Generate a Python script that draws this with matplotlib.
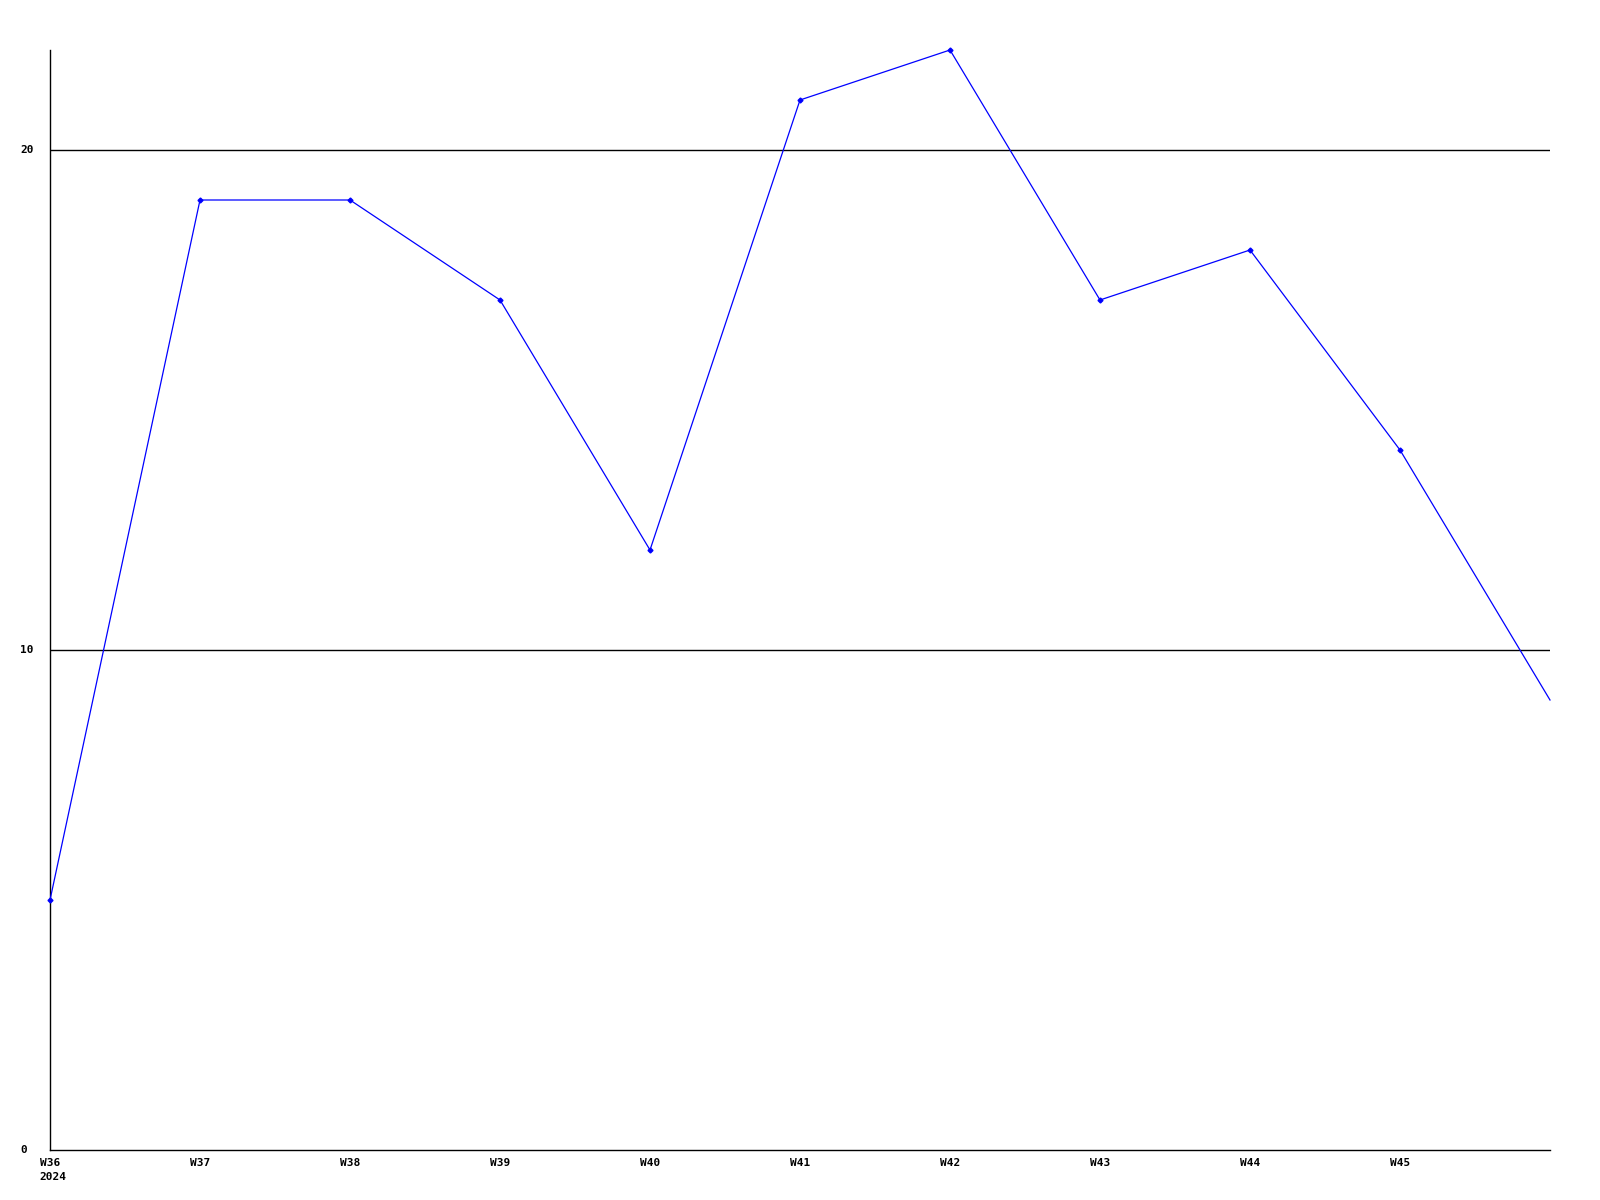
import matplotlib
matplotlib.use("Agg")
import matplotlib.pyplot as plt

weeks = ['W36', 'W37', 'W38', 'W39', 'W40', 'W41', 'W42', 'W43', 'W44', 'W45', 'W46']
values = [5, 19, 19, 17, 12, 21, 22, 17, 18, 14, 9]
tick_labels = ['W36\n2024', 'W37', 'W38', 'W39', 'W40', 'W41', 'W42', 'W43', 'W44', 'W45']
y_ticks = [0, 10, 20]

fig = plt.figure(figsize=(16, 12), dpi=100)
ax = fig.add_axes([50 / 1600, 50 / 1200, 1500 / 1600, 1100 / 1200])

x = list(range(len(weeks)))
# last point sits on the right edge, no marker there
ax.plot(x, values, color='#0000ff', linewidth=0.9, marker='D', markersize=2.5,
        markevery=list(range(len(weeks) - 1)), clip_on=False, zorder=3)

ax.set_xlim(0, 10)
ax.set_ylim(0, 22)

for y in y_ticks[1:]:
    ax.axhline(y, color='black', linewidth=1, zorder=1)

for s in ['top', 'right']:
    ax.spines[s].set_visible(False)
for s in ['left', 'bottom']:
    ax.spines[s].set_linewidth(1)
    ax.spines[s].set_color('black')

font = dict(family='DejaVu Sans Mono', fontsize=8, fontweight='bold')

ax.set_xticks(range(len(tick_labels)))
ax.set_xticklabels([])
ax.set_yticks(y_ticks)
ax.set_yticklabels([])
ax.tick_params(length=0)

for i, lab in enumerate(tick_labels):
    ax.text(i - 0.07, -0.15, lab, ha='left', va='top', linespacing=1.6, **font)

for y in y_ticks:
    ax.text(-30 / 1500 * 10, y, str(y), ha='left', va='center', **font)

fig.savefig('out.png', dpi=100)
